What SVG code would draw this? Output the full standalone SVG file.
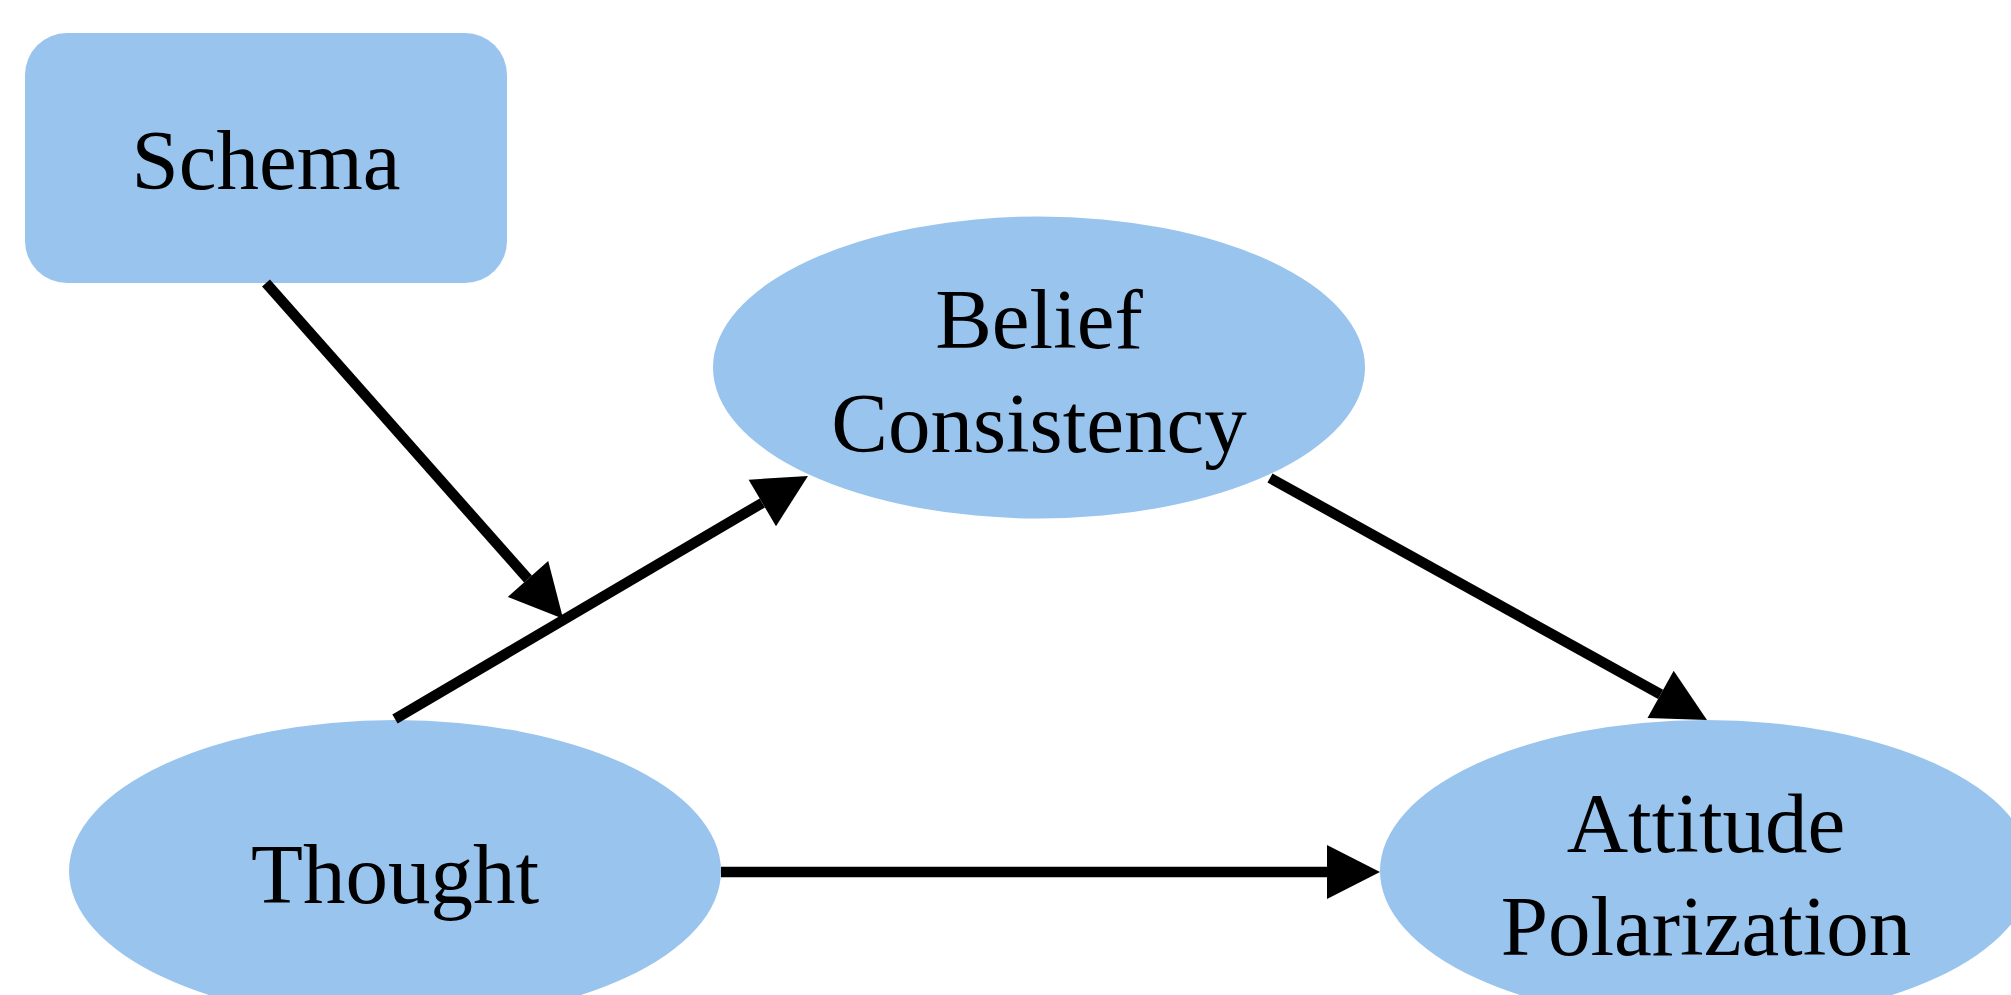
<svg xmlns="http://www.w3.org/2000/svg" width="2011" height="995" viewBox="0 0 2011 995">
  <style>
    .node { fill: #99c4ed; stroke: none; }
    .label { font-family: "Liberation Serif", "Times New Roman", serif; font-size: 85px; fill: #000; text-anchor: middle; }
    .edge { stroke: #000; stroke-width: 10.5; fill: none; }
  </style>
  <defs>
    <marker id="head" markerUnits="userSpaceOnUse" viewBox="0 -27 53 54" markerWidth="53" markerHeight="54" refX="0" refY="0" orient="auto" overflow="visible">
      <path d="M0,-27 L53,0 L0,27 z" fill="#000"/>
    </marker>
  </defs>
  <rect width="2011" height="995" fill="#fff"/>

  <g id="schema">
    <rect class="node" x="25" y="33" width="482" height="250" rx="42" ry="42"/>
    <text class="label" x="266" y="189">Schema</text>
  </g>

  <g id="belief-consistency">
    <ellipse class="node" cx="1039" cy="367.5" rx="326" ry="151"/>
    <text class="label" x="1039" y="348">Belief</text>
    <text class="label" x="1039" y="452">Consistency</text>
  </g>

  <g id="thought">
    <ellipse class="node" cx="395" cy="871" rx="326" ry="151"/>
    <text class="label" x="395" y="903">Thought</text>
  </g>

  <g id="attitude-polarization">
    <ellipse class="node" cx="1706" cy="871" rx="326" ry="151"/>
    <text class="label" x="1706" y="852">Attitude</text>
    <text class="label" x="1706" y="955">Polarization</text>
  </g>

  <g id="connectors">
    <line class="edge" x1="266" y1="283" x2="528" y2="579" marker-end="url(#head)"/>
    <line class="edge" x1="395" y1="719" x2="762.3" y2="502.9" marker-end="url(#head)"/>
    <line class="edge" x1="1270" y1="478" x2="1660.6" y2="694.3" marker-end="url(#head)"/>
    <line class="edge" x1="721" y1="872" x2="1327" y2="872" marker-end="url(#head)"/>
  </g>
</svg>
